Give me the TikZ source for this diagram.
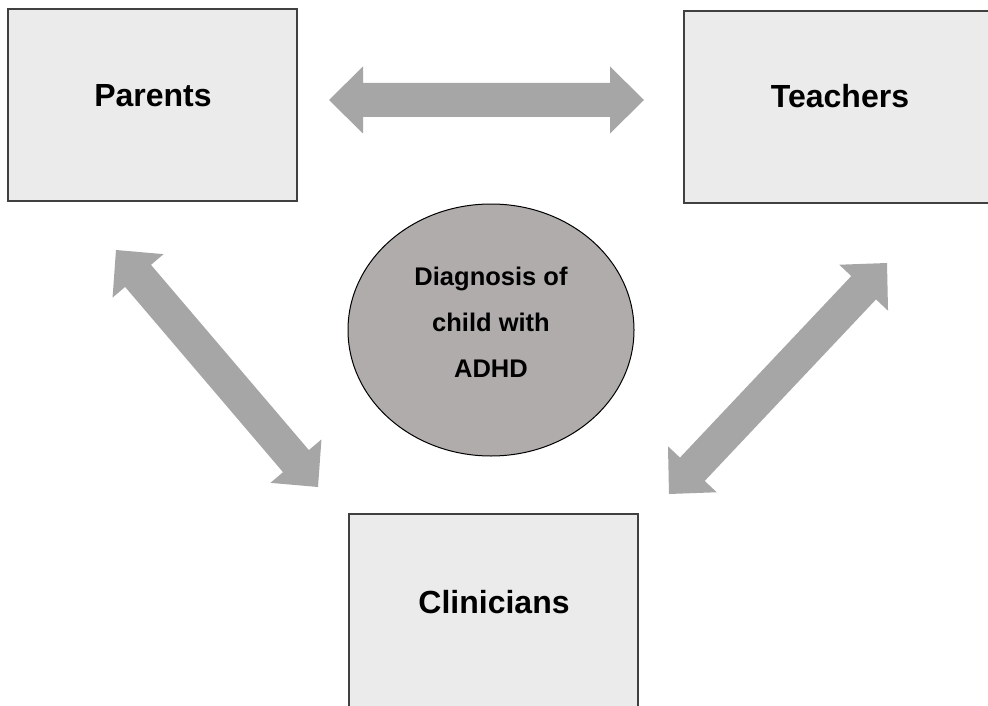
\documentclass[tikz,border=0pt]{standalone}
\usepackage{fontspec}
\setmainfont{Liberation Sans}
\usetikzlibrary{calc}
\definecolor{boxfill}{HTML}{EBEBEB}
\definecolor{boxline}{HTML}{404040}
\definecolor{ellfill}{HTML}{B0ACAB}
\definecolor{arrfill}{HTML}{A6A6A6}
\newcommand\blockarr[2]{%
  \coordinate (c1) at ($(#1)!34pt!(#2)$);
  \coordinate (c2) at ($(#2)!34pt!(#1)$);
  \fill[arrfill] (#1) -- ($(c1)!33.5pt!90:(#2)$) -- ($(c1)!17pt!90:(#2)$)
    -- ($(c2)!17pt!-90:(#1)$) -- ($(c2)!33.5pt!-90:(#1)$) -- (#2)
    -- ($(c2)!33.5pt!90:(#1)$) -- ($(c2)!17pt!90:(#1)$)
    -- ($(c1)!17pt!-90:(#2)$) -- ($(c1)!33.5pt!-90:(#2)$) -- cycle;}
\tikzset{
  box/.style={draw=boxline, line width=1.3pt, fill=boxfill, rectangle, inner sep=0pt},
  boxtext/.style={font=\bfseries\fontsize{32}{38}\selectfont, anchor=base, inner sep=0pt},
  ell/.style={draw=black, line width=1pt, fill=ellfill, ellipse, inner sep=0pt},
  elltext/.style={font=\bfseries\fontsize{25.5}{46}\selectfont, align=center, inner sep=0pt},
}
\usetikzlibrary{shapes.geometric}
\begin{document}
\begin{tikzpicture}[x=1pt, y=-1pt]
  \clip (0,0) rectangle (988,706);
  \fill[white] (0,0) rectangle (988,706);
  % boxes
  \node[box, minimum width=289pt, minimum height=192pt] (parents) at (152.5,105) {};
  \node[box, minimum width=310pt, minimum height=192pt] (teachers) at (839,107) {};
  \node[box, minimum width=289pt, minimum height=206pt] (clinicians) at (493.5,617) {};
  \node[boxtext] (parentsT) at (153,107) {Parents};
  \node[boxtext] (teachersT) at (840,108) {Teachers};
  \node[boxtext] (cliniciansT) at (494,613) {Clinicians};
  % ellipse
  \node[ell, minimum width=286pt, minimum height=252pt] (diag) at (491,330) {};
  \node[elltext] (diagT) at (491,322) {Diagnosis of\\child with\\ADHD};
  % arrows
  \coordinate (hA) at (329,100);
  \coordinate (hB) at (644,100);
  \coordinate (lA) at (116,250);
  \coordinate (lB) at (318,487);
  \coordinate (rA) at (887,263);
  \coordinate (rB) at (669,494);
  \blockarr{hA}{hB}
  \blockarr{lA}{lB}
  \blockarr{rA}{rB}
\end{tikzpicture}
\end{document}
